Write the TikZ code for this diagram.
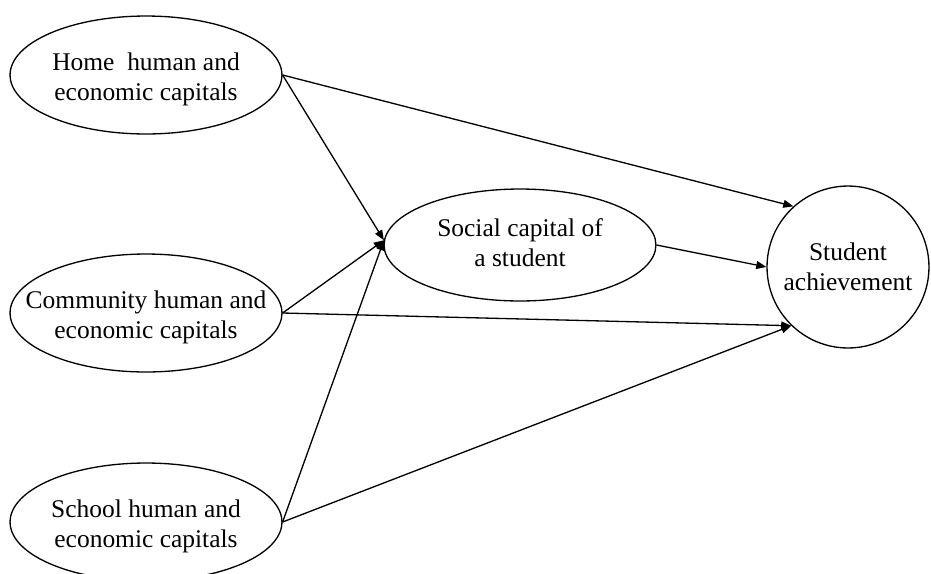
\documentclass[tikz,border=0pt]{standalone}
\usepackage{fontspec}
\setmainfont{Liberation Serif}
\usetikzlibrary{arrows.meta,shapes.geometric}
\definecolor{ScInk}{RGB}{0,0,0}
\tikzset{
  sc/text/.style={
    align=center,
    text=ScInk,
    inner sep=0pt,
    font=\fontsize{11.6}{13.66}\selectfont
  },
  sc/capital/.style={
    ellipse,
    draw=ScInk,
    line width=0.6pt,
    inner sep=0pt,
    minimum width=4.352cm,
    minimum height=1.888cm
  },
  sc/social/.style={
    sc/capital,
    minimum height=1.792cm
  },
  sc/outcome/.style={
    circle,
    draw=ScInk,
    line width=0.6pt,
    inner sep=0pt,
    minimum size=2.592cm
  },
  sc/arrow/.style={-{Triangle[length=4.6pt,width=3.6pt]}, line width=0.6pt, draw=ScInk}
}

\begin{document}
\begin{tikzpicture}[x=0.016cm,y=-0.016cm]
  \useasboundingbox (0,0) rectangle (931,573);

  \node[sc/capital,label={[sc/text,yshift=-1.8pt]center:Home~ human and\\economic capitals}] (home) at (146,75) {};
  \node[sc/capital,label={[sc/text,yshift=-1.8pt]center:Community human and\\economic capitals}] (comm) at (146,313) {};
  \node[sc/capital,label={[sc/text,yshift=-1.8pt]center:School human and\\economic capitals}] (school) at (146,522) {};
  \node[sc/social,label={[sc/text,yshift=0.9pt]center:Social capital of\\a student}] (soc) at (520,245) {};
  \node[sc/outcome,label={[sc/text]center:Student\\achievement}] (ach) at (848,267) {};

  % paths into the social capital
  \draw[sc/arrow] (home.east) -- (soc.178);
  \draw[sc/arrow] (comm.east) -- (soc.178);
  \draw[sc/arrow] (school.east) -- (soc.178);

  % paths into achievement
  \draw[sc/arrow] (home.east) -- (ach.132);
  \draw[sc/arrow] (soc.east) -- (ach.180);
  \draw[sc/arrow] (comm.east) -- (ach.226);
  \draw[sc/arrow] (school.east) -- (ach.226);
\end{tikzpicture}
\end{document}
